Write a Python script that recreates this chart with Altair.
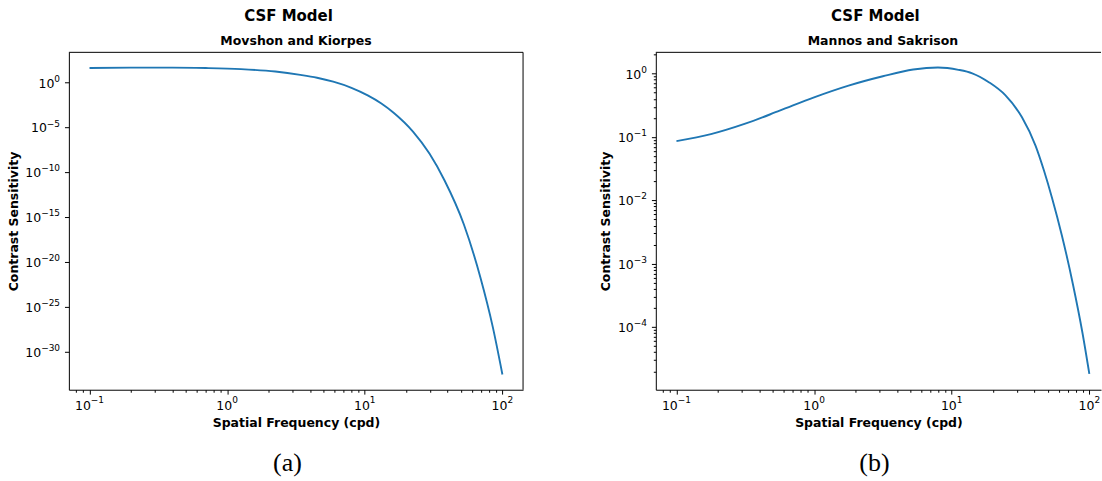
import altair as alt
import pandas as pd

# ---- data ----
# (a) Movshon and Kiorpes
freq_mk = [0.1, 0.2, 0.4, 0.7, 1.26, 2.24, 3.4, 4.5, 5.9, 8.0,
           10.5, 13.2, 16.2, 22.4, 29.5, 38.0, 52.5, 69.2, 85.1, 100.0]
sens_mk = [42.66, 46.2, 46.8, 41.69, 31.62, 16.98, 7.244, 3.467, 1.259, 0.2630,
           0.03802, 4.786e-3, 4.467e-4, 3.548e-6, 1.259e-8, 1.259e-11, 1.585e-16,
           1.995e-22, 6.310e-28, 3.162e-33]

# (b) Mannos and Sakrison
freq_ms = [0.1, 0.178, 0.316, 0.562, 1.0, 1.78, 3.16, 5.25, 7.94, 11.2,
           14.1, 18.6, 24.5, 32.4, 40.7, 46.8, 53.7, 63.1, 75.9, 89.1, 100.0]
sens_ms = [0.0861, 0.1109, 0.1622, 0.2600, 0.4217, 0.6457, 0.9078, 1.161, 1.250,
           1.148, 1.012, 0.7328, 0.4571, 0.2042, 0.07244, 0.02951, 0.01072,
           2.818e-3, 4.786e-4, 8.128e-5, 1.820e-5]

# ticks and tick labels (10 to the power of the exponent)
x_major = [0.1, 1.0, 10.0, 100.0]
x_major_exp = ["−1", "0", "1", "2"]
x_minor = [0.08, 0.09, 0.2, 0.3, 0.4, 0.5, 0.6, 0.7, 0.8, 0.9,
           2.0, 3.0, 4.0, 5.0, 6.0, 7.0, 8.0, 9.0,
           20.0, 30.0, 40.0, 50.0, 60.0, 70.0, 80.0, 90.0]

y_major_mk = [1.0, 1e-5, 1e-10, 1e-15, 1e-20, 1e-25, 1e-30]
y_major_mk_exp = ["0", "−5", "−10", "−15", "−20", "−25", "−30"]

y_major_ms = [1.0, 0.1, 0.01, 0.001, 0.0001]
y_major_ms_exp = ["0", "−1", "−2", "−3", "−4"]
y_minor_ms = [2e-5, 3e-5, 4e-5, 5e-5, 6e-5, 7e-5, 8e-5, 9e-5,
              2e-4, 3e-4, 4e-4, 5e-4, 6e-4, 7e-4, 8e-4, 9e-4,
              0.002, 0.003, 0.004, 0.005, 0.006, 0.007, 0.008, 0.009,
              0.02, 0.03, 0.04, 0.05, 0.06, 0.07, 0.08, 0.09,
              0.2, 0.3, 0.4, 0.5, 0.6, 0.7, 0.8, 0.9, 2.0]

titles = ["CSF Model", "CSF Model"]
subtitles = ["Movshon and Kiorpes", "Mannos and Sakrison"]
captions = ["(a)", "(b)"]

# ---- layout / style ----
H = 338
W_LEFT = 455
PX_PER_DEC = W_LEFT / 3.3
W_RIGHT = 446
FONT = "DejaVu Sans"
BLUE = "#1f77b4"
TICK_FS = 12.5
SUP_FS = 9.0
MAJOR_TICK = 4.4
MINOR_TICK = 2.5
PAD = 4.4


def text_w(s, size):
    # DejaVu Sans advance widths (em)
    return sum(0.838 if ch == "−" else 0.636 for ch in s) * size


W10 = text_w("10", TICK_FS)


def major_test(values):
    return " || ".join(f"datum.value == {v!r}" for v in values)


def axis(values_major, values_minor, title, title_pad):
    return alt.Axis(
        values=values_major + values_minor,
        labels=False,
        tickSize={"condition": {"test": major_test(values_major), "value": MAJOR_TICK},
                  "value": MINOR_TICK},
        tickColor="black", tickWidth=1,
        domainColor="black", domainWidth=1,
        grid=False,
        title=title, titleFont=FONT, titleFontSize=12.5, titleFontWeight="bold",
        titleColor="black", titlePadding=title_pad,
    )


def panel(freq, sens, xdom, ydom, ymaj, ymaj_exp, ymin, width, idx, right_spine, ytitle_pad):
    xs = alt.Scale(type="log", domain=xdom, nice=False)
    ys = alt.Scale(type="log", domain=ydom, nice=False)
    xax = axis(x_major, x_minor, "Spatial Frequency (cpd)", 21.5)
    yax = axis(ymaj, ymin, "Contrast Sensitivity", ytitle_pad)
    df = pd.DataFrame({"f": freq, "s": sens})
    line = alt.Chart(df).mark_line(color=BLUE, strokeWidth=1.9, interpolate="monotone", clip=True).encode(
        x=alt.X("f:Q", scale=xs, axis=xax),
        y=alt.Y("s:Q", scale=ys, axis=yax),
    )
    one = pd.DataFrame({"t": [0]})
    top = alt.Chart(one).mark_rule(color="black", strokeWidth=1).encode(
        x=alt.value(0), x2=alt.value(width), y=alt.value(0))
    layers = [line, top]
    if right_spine:
        layers.append(alt.Chart(one).mark_rule(color="black", strokeWidth=1).encode(
            x=alt.value(width), y=alt.value(0), y2=alt.value(H)))

    # x tick labels: "10" + superscript exponent, centred on the tick
    xl = pd.DataFrame({"f": x_major, "exp": x_major_exp})
    xl["base"] = "10"
    xl["tot"] = [W10 + text_w(e, SUP_FS) for e in x_major_exp]
    xl["dx10"] = -xl["tot"] / 2
    xl["dxe"] = -xl["tot"] / 2 + W10
    layers.append(alt.Chart(xl).mark_text(font=FONT, fontSize=TICK_FS, color="black", align="left",
                                          baseline="alphabetic", dx={"expr": "datum.dx10"}).encode(
        text="base:N", x=alt.X("f:Q", scale=xs, axis=xax), y=alt.value(H + 20.3)))
    layers.append(alt.Chart(xl).mark_text(font=FONT, fontSize=SUP_FS, color="black", align="left",
                                          baseline="alphabetic", dx={"expr": "datum.dxe"}).encode(
        text="exp:N", x=alt.X("f:Q", scale=xs, axis=xax), y=alt.value(H + 13.7)))

    # y tick labels, right aligned
    yl = pd.DataFrame({"s": ymaj, "exp": ymaj_exp})
    yl["base"] = "10"
    yl["dx10"] = [-text_w(e, SUP_FS) for e in ymaj_exp]
    layers.append(alt.Chart(yl).mark_text(font=FONT, fontSize=TICK_FS, color="black", align="right",
                                          baseline="alphabetic", dy=5,
                                          dx={"expr": "datum.dx10"}).encode(
        text="base:N", x=alt.value(-(MAJOR_TICK + PAD)), y=alt.Y("s:Q", scale=ys, axis=yax)))
    layers.append(alt.Chart(yl).mark_text(font=FONT, fontSize=SUP_FS, color="black", align="right",
                                          baseline="alphabetic", dy=-1).encode(
        text="exp:N", x=alt.value(-(MAJOR_TICK + PAD)), y=alt.Y("s:Q", scale=ys, axis=yax)))

    tdf = pd.DataFrame({"title": [titles[idx]], "sub": [subtitles[idx]], "cap": [captions[idx]]})
    layers.append(alt.Chart(tdf).mark_text(font=FONT, fontSize=15, fontWeight="bold", color="black",
                                           align="center", baseline="alphabetic").encode(
        text="title:N", x=alt.value(220), y=alt.value(-31.7)))
    layers.append(alt.Chart(tdf).mark_text(font=FONT, fontSize=12.5, fontWeight="bold", color="black",
                                           align="center", baseline="alphabetic").encode(
        text="sub:N", x=alt.value(W_LEFT / 2), y=alt.value(-7.5)))
    layers.append(alt.Chart(tdf).mark_text(font="Liberation Serif", fontSize=26, color="black",
                                           align="center", baseline="alphabetic").encode(
        text="cap:N", x=alt.value(219), y=alt.value(419)))
    return alt.layer(*layers).properties(width=width, height=H)


xdom_left = [10 ** -1.15, 10 ** 2.15]
xdom_right = [10 ** -1.15, 10 ** (-1.15 + W_RIGHT / PX_PER_DEC)]

left = panel(freq_mk, sens_mk, xdom_left, [10 ** -34.2, 10 ** 3.37],
             y_major_mk, y_major_mk_exp, [], W_LEFT, 0, True, 43.5)
right = panel(freq_ms, sens_ms, xdom_right, [10 ** -4.99, 10 ** 0.336],
              y_major_ms, y_major_ms_exp, y_minor_ms, W_RIGHT, 1, False, 38.5)

chart = alt.hconcat(left, right, spacing=133, bounds="flush").properties(
    padding={"left": 7, "top": 7, "right": 0, "bottom": 0},
    background="white",
).configure_view(stroke="transparent")

chart.save("out.html", embed_options={"renderer": "svg", "actions": False})
